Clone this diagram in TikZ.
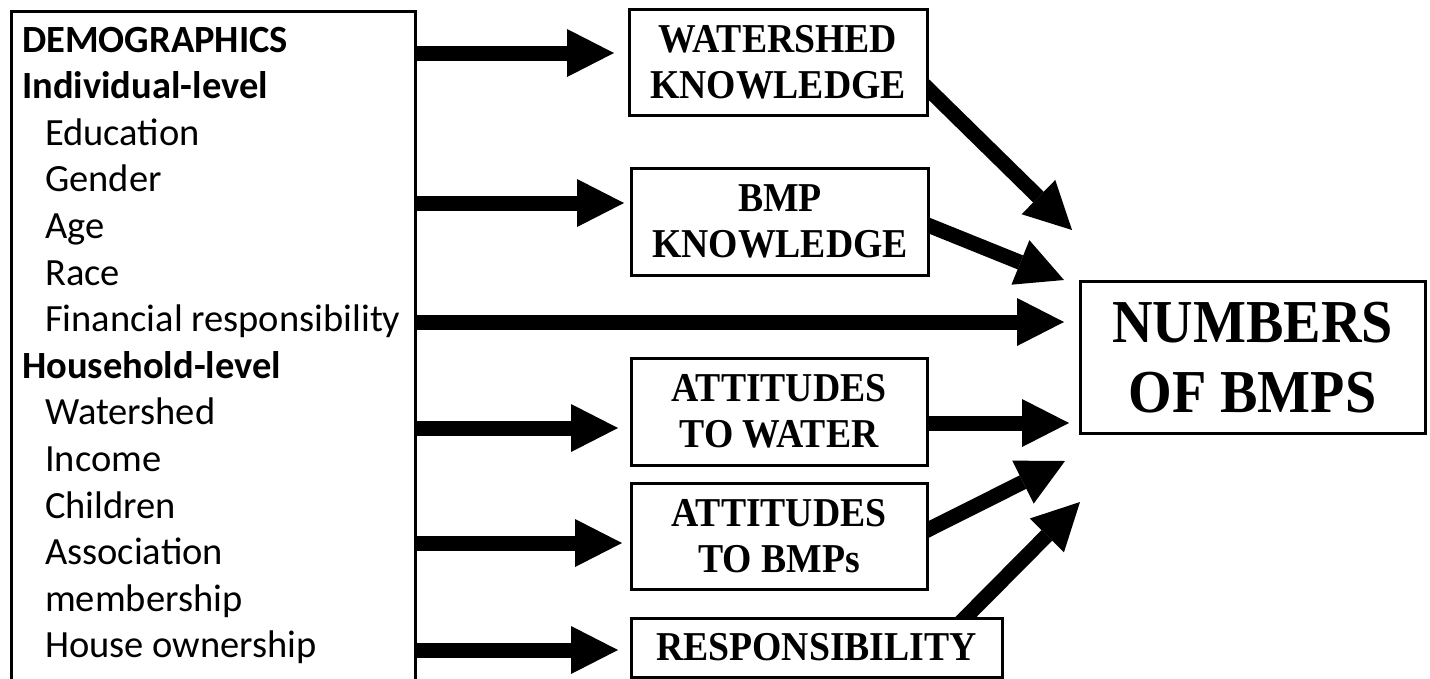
\documentclass[tikz,border=0pt]{standalone}
\usepackage{fontspec}
\setmainfont{Liberation Serif}
\newfontfamily\condserif[FakeStretch=0.92]{Liberation Serif}
\newfontfamily\leftfont{Carlito}
\usetikzlibrary{arrows.meta,calc}
\pgfdeclarelayer{bg}
\pgfsetlayers{bg,main}
\tikzset{
  box/.style={draw, line width=3pt, fill=white, inner sep=0pt},
  conc/.style={box, align=center, font=\condserif\fontsize{41}{46}\selectfont\bfseries},
  lt/.style={anchor=base west, inner sep=0pt, font=\leftfont\fontsize{38.5}{46}\selectfont},
  bigarrow/.style={line width=15pt, -{Triangle[length=47pt,width=48pt,line width=0pt]}}
}
\begin{document}
\begin{tikzpicture}[x=1pt,y=-1pt]
\useasboundingbox (0,0) rectangle (1430,678);
% left box
\node[box, anchor=north west, minimum width=404pt, minimum height=700pt] (demo) at (10,10) {};
\node[lt] (t1) at (22,52) {\bfseries DEMOGRAPHICS};
\node[lt] (t2) at (22,98.6) {\bfseries Individual-level};
\node[lt] (t3) at (45,145.2) {Education};
\node[lt] (t4) at (45,191.8) {Gender};
\node[lt] (t5) at (45,238.4) {Age};
\node[lt] (t6) at (45,285) {Race};
\node[lt] (t7) at (45,331.6) {Financial responsibility};
\node[lt] (t8) at (22,378.2) {\bfseries Household-level};
\node[lt] (t9) at (45,424.8) {Watershed};
\node[lt] (t10) at (45,471.4) {Income};
\node[lt] (t11) at (45,518) {Children};
\node[lt] (t12) at (45,564.6) {Association};
\node[lt] (t13) at (45,611.2) {membership};
\node[lt] (t14) at (45,657.8) {House ownership};
% concept boxes
\node[conc, minimum width=298pt, minimum height=106pt] (ws) at (778,62.5) {WATERSHED\\KNOWLEDGE};
\node[conc, minimum width=297pt, minimum height=107pt] (bmp) at (780,221.5) {BMP\\KNOWLEDGE};
\node[conc, minimum width=345pt, minimum height=152pt, font=\condserif\fontsize{61}{70}\selectfont\bfseries] (num) at (1252.5,357.5) {NUMBERS\\OF BMPS};
\node[conc, minimum width=296pt, minimum height=107pt] (aw) at (779,411.5) {ATTITUDES\\TO WATER};
\node[conc, minimum width=296pt, minimum height=106pt] (ab) at (779,536) {ATTITUDES\\TO BMPs};
\node[conc, minimum width=371pt, minimum height=59pt] (resp) at (816.5,647.5) {RESPONSIBILITY};
% arrow targets near the outcome box
\coordinate (c1) at (1072,230);
\coordinate (c2) at (1064,280);
\coordinate (c3) at (1069,423);
\coordinate (c4) at (1065,461);
\coordinate (c5) at (1080,502);
\begin{pgfonlayer}{bg}
\draw[bigarrow, shorten >=13.5pt] (demo.east |- 0,53) -- (ws.west |- 0,53);
\draw[bigarrow, shorten >=6pt] (demo.east |- 0,203) -- (bmp.west |- 0,203);
\draw[bigarrow, shorten >=14.5pt] (demo.east |- 0,322) -- (num.west |- 0,322);
\draw[bigarrow, shorten >=11.5pt] (demo.east |- 0,428) -- (aw.west |- 0,428);
\draw[bigarrow, shorten >=7.5pt] (demo.east |- 0,543) -- (ab.west |- 0,543);
\draw[bigarrow, shorten >=11.5pt] (demo.east |- 0,650) -- (resp.west |- 0,650);
\draw[bigarrow] ($(ws.east)+(-11,16)$) -- (c1);
\draw[bigarrow] ($(bmp.east)+(-11,0)$) -- (c2);
\draw[bigarrow] ($(aw.east |- 0,423)+(-5,0)$) -- (c3);
\draw[bigarrow] ($(ab.east)+(-11,-1)$) -- (c4);
\draw[bigarrow] ($(resp.north)+(140,10)$) -- (c5);
\end{pgfonlayer}
\end{tikzpicture}
\end{document}
